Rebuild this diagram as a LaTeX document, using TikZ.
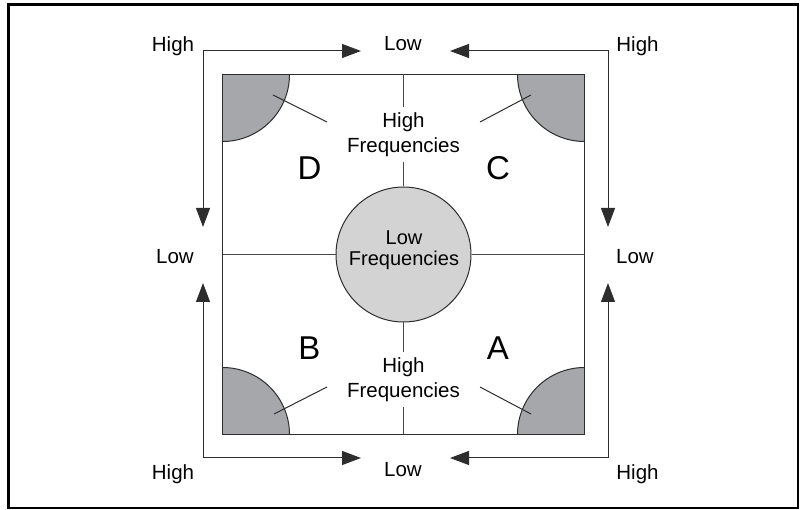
\documentclass[tikz,border=0pt]{standalone}
\usepackage{fontspec}
\setmainfont{Liberation Sans}
\usetikzlibrary{arrows.meta,positioning}
\definecolor{cornergray}{RGB}{166,167,171}
\definecolor{centergray}{RGB}{211,211,212}
\definecolor{edgegray}{RGB}{45,45,45}
\definecolor{divgray}{RGB}{70,70,70}
\begin{document}
\begin{tikzpicture}[x=1pt,y=-1pt,line width=1pt,
 >={Triangle[length=19pt,width=14pt]},line join=miter,
 font=\fontsize{20.5}{25}\selectfont,
 lbl/.style={anchor=base,inner sep=0pt},
 quad/.style={anchor=base,inner sep=0pt,font=\fontsize{33}{36}\selectfont},
 freq/.style={align=center,inner sep=5pt}]
\useasboundingbox (0,0) rectangle (801,510);
\draw[line width=2.6pt] (8.5,4.5) rectangle (798,508);
\path (403.5,254.5) node[minimum width=361pt,minimum height=359pt,inner sep=0pt] (sq) {};
\begin{scope}
\clip (sq.south west) rectangle (sq.north east);
\foreach \c in {north west,north east,south west,south east}
 \filldraw[fill=cornergray,draw=edgegray] (sq.\c) circle[radius=67];
\end{scope}
\draw[edgegray,line width=1.6pt] (sq.south west) rectangle (sq.north east);
\node[circle,draw=edgegray,fill=centergray,minimum size=135pt,inner sep=0pt] (lowc) at (sq) {};
\node[align=center,inner sep=0pt,font=\fontsize{20}{21}\selectfont] (lowt) at (404,250.5) {Low\\Frequencies};
\node[freq] (hft) at (403.5,134.3) {High\\Frequencies};
\node[freq] (hfb) at (403.5,379.3) {High\\Frequencies};
\draw[divgray] (sq.north) -- (hft);
\draw[divgray] (hft) -- (lowc);
\draw[divgray] (lowc) -- (hfb);
\draw[divgray] (hfb) -- (sq.south);
\draw[divgray] (sq.west) -- (lowc);
\draw[divgray] (lowc) -- (sq.east);
\coordinate (dIn) at (273,95);
\coordinate (dOut) at (327,122);
\coordinate (cIn) at (531,95);
\coordinate (cOut) at (480,122);
\coordinate (bIn) at (274,414);
\coordinate (bOut) at (327,387);
\coordinate (aIn) at (531,414);
\coordinate (aOut) at (480,387);
\foreach \q in {d,c,b,a}{\draw[edgegray] (\q In) -- (\q Out);}
\node[quad] (qD) at (309.5,180) {D};
\node[quad] (qC) at (498,180) {C};
\node[quad] (qB) at (309.5,360) {B};
\node[quad] (qA) at (498,360) {A};
\coordinate (ltTip) at (203,227);
\coordinate (tlTip) at (361,51);
\coordinate (rtTip) at (608,227);
\coordinate (trTip) at (450,51);
\coordinate (lbTip) at (203,283);
\coordinate (blTip) at (361,458);
\coordinate (rbTip) at (608,283);
\coordinate (brTip) at (450,458);
\draw[edgegray,<->] (ltTip) |- (tlTip);
\draw[edgegray,<->] (rtTip) |- (trTip);
\draw[edgegray,<->] (lbTip) |- (blTip);
\draw[edgegray,<->] (rbTip) |- (brTip);
\node[lbl] (lowTop) at (403,51) {Low};
\node[lbl] (lowBot) at (403,477) {Low};
\node[lbl] (lowL) at (175,264) {Low};
\node[lbl] (lowR) at (635,264) {Low};
\node[lbl] (highTL) at (173,52) {High};
\node[lbl] (highTR) at (637.5,52) {High};
\node[lbl] (highBL) at (173,479) {High};
\node[lbl] (highBR) at (637.5,479) {High};
\end{tikzpicture}
\end{document}
